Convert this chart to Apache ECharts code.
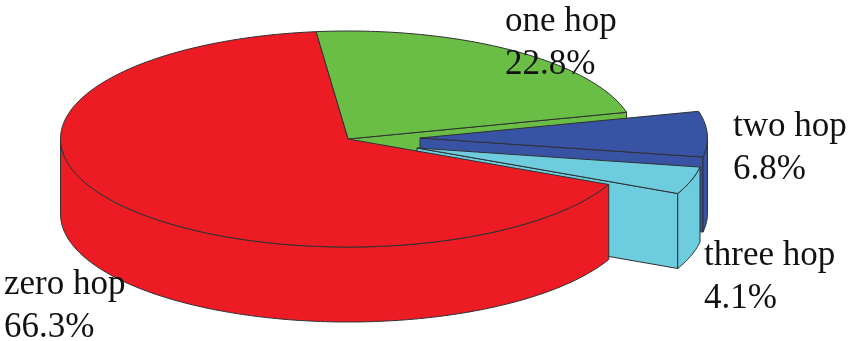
<!DOCTYPE html>
<html>
<head>
<meta charset="utf-8">
<style>html,body{margin:0;padding:0;background:#fff}#c{width:850px;height:341px}</style>
<script src="https://cdn.jsdelivr.net/npm/echarts@6/dist/echarts.min.js"></script>
</head>
<body>
<div id="c"></div>
<script>
// Data (in drawing order, clockwise from the red/green boundary)
const categories = ['one hop', 'two hop', 'three hop', 'zero hop'];
const shares = [22.8, 6.8, 4.1, 66.3];

// Styling and layout
const colors = ['#6ABD45', '#3953A4', '#6DCCDD', '#ED1C24'];
const explodeX = [0, 72, 69, 0];
const explodeY = [0, -1, 9, 0];
const labelX = [505, 733, 704, 4];
const labelY = [0, 105, 234, 263];
const CX = 348, CY = 139, RX = 287.5, RY = 108, DEPTH = 75, START_DEG = -96.4;
const total = shares.reduce((a, b) => a + b, 0);
const starts = [];
shares.reduce((acc, v, i) => { starts[i] = acc; return acc + v / total * 360; }, START_DEG);

function rim(t, i, drop) {
  const r = t * Math.PI / 180;
  return [CX + explodeX[i] + RX * Math.cos(r), CY + explodeY[i] + drop + RY * Math.sin(r)];
}
function arc(a, b, i, drop) {
  const pts = [], n = Math.max(2, Math.ceil(Math.abs(b - a)));
  for (let k = 0; k <= n; k++) pts.push(rim(a + (b - a) * k / n, i, drop));
  return pts;
}
function poly(points, fill) {
  return {
    type: 'polygon',
    shape: { points: points },
    style: { fill: fill, stroke: '#2f3133', lineWidth: 1, lineJoin: 'round' }
  };
}
function renderSlice(params, api) {
  const i = params.dataIndex;
  const a = starts[i], b = a + api.value(0) / total * 360;
  const fill = colors[i];
  const apex = [CX + explodeX[i], CY + explodeY[i]];
  const apexLow = [apex[0], apex[1] + DEPTH];
  const kids = [];
  // cut face at the clockwise end, when it faces the viewer
  if (Math.cos(b * Math.PI / 180) > 0) {
    kids.push(poly([apex, rim(b, i, 0), rim(b, i, DEPTH), apexLow], fill));
  }
  // outer wall, front half of the rim only
  const w0 = Math.max(a, 0), w1 = Math.min(b, 180);
  if (w1 > w0) {
    kids.push(poly(arc(w0, w1, i, 0).concat(arc(w1, w0, i, DEPTH)), fill));
  }
  // top face
  kids.push(poly([apex].concat(arc(a, b, i, 0)), fill));
  return { type: 'group', children: kids };
}
function renderLabel(params, api) {
  const i = params.dataIndex;
  return {
    type: 'text',
    x: labelX[i],
    y: labelY[i],
    style: {
      text: categories[i] + '\n' + api.value(0).toFixed(1) + '%',
      fontFamily: '"Liberation Serif", "Times New Roman", serif',
      fontSize: 35,
      lineHeight: 43.5,
      fill: '#111111',
      align: 'left',
      verticalAlign: 'top'
    }
  };
}
const chart = echarts.init(document.getElementById('c'), null, { renderer: 'canvas' });
chart.setOption({
  animation: false,
  backgroundColor: '#ffffff',
  series: [
    { type: 'custom', coordinateSystem: 'none', z: 2, silent: true, renderItem: renderSlice,
      data: shares.map(v => [v]) },
    { type: 'custom', coordinateSystem: 'none', z: 3, silent: true, renderItem: renderLabel,
      data: shares.map(v => [v]) }
  ]
});
</script>
</body>
</html>
